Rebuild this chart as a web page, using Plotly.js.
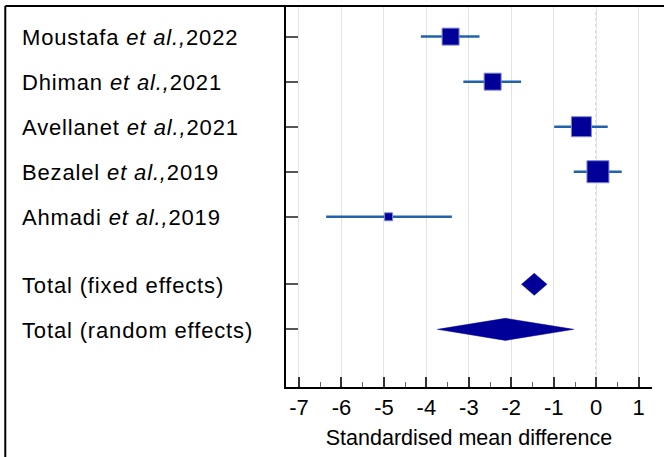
<!DOCTYPE html>
<html>
<head>
<meta charset="utf-8">
<script src="https://cdn.plot.ly/plotly-3.0.1.min.js"></script>
<style>html,body{margin:0;padding:0;background:#fff;}#chart{width:664px;height:457px;}
.annotation-text{letter-spacing:0.85px;}</style>
</head>
<body>
<div id="chart"></div>
<script>
// Studies (top to bottom)
var studyLabels = ["Moustafa <i>et al.,</i>2022", "Dhiman <i>et al.,</i>2021", "Avellanet <i>et al.,</i>2021", "Bezalel <i>et al.,</i>2019", "Ahmadi <i>et al.,</i>2019"];
var studyRows = [0, 1, 2, 3, 4];
var studySMD = [-3.43, -2.44, -0.35, 0.04, -4.89];
var studyLower = [-4.13, -3.13, -0.99, -0.53, -6.36];
var studyUpper = [-2.75, -1.77, 0.27, 0.60, -3.40];
var studyWeight = [17, 17, 20, 22, 8];   // marker size from weight

// Pooled estimates
var totalLabels = ["Total (fixed effects)", "Total (random effects)"];
var totalRows = [5.5, 6.5];
var totalSMD = [-1.46, -2.14];
var totalLower = [-1.76, -3.74];
var totalUpper = [-1.16, -0.53];

// X axis ticks
var xTickVals = [-7, -6, -5, -4, -3, -2, -1, 0, 1];
var xTickText = ["-7", "-6", "-5", "-4", "-3", "-2", "-1", "0", "1"];

var navy = "#000099";
var ciColor = "#2162aa";
var traces = [];
traces.push({
  type: "scatter", mode: "markers",
  x: studySMD, y: studyRows,
  marker: {symbol: "square", size: studyWeight, color: navy, opacity: 1, line: {color: "#7f86d6", width: 1}},
  error_x: {
    type: "data", symmetric: false,
    array: studySMD.map(function(v, i){ return studyUpper[i] - v; }),
    arrayminus: studySMD.map(function(v, i){ return v - studyLower[i]; }),
    color: ciColor, thickness: 2.5, width: 0
  },
  hoverinfo: "x", showlegend: false
});
var halfH = 0.245;
totalSMD.forEach(function(c, i){
  var r = totalRows[i];
  traces.push({
    type: "scatter", mode: "lines",
    x: [totalLower[i], c, totalUpper[i], c, totalLower[i]],
    y: [r, r - halfH, r, r + halfH, r],
    fill: "toself", fillcolor: navy,
    line: {color: navy, width: 0.5},
    hoverinfo: "skip", showlegend: false
  });
});
var annotations = [];
var allLabels = studyLabels.concat(totalLabels);
var allRows = studyRows.concat(totalRows);
allLabels.forEach(function(t, i){
  annotations.push({
    text: t, x: -0.727, xref: "paper", y: allRows[i], yref: "y", yshift: -1,
    xanchor: "left", yanchor: "middle", showarrow: false,
    font: {family: "Liberation Sans, Arial, sans-serif", size: 22, color: "#000"}
  });
});
var layout = {
  width: 664, height: 457,
  margin: {l: 286, r: 12, t: 6, b: 70, pad: 0},
  paper_bgcolor: "#fff", plot_bgcolor: "#fff",
  font: {family: "Liberation Sans, Arial, sans-serif", size: 21, color: "#000"},
  xaxis: {
    range: [-7.306, 1.313],
    tickvals: xTickVals, ticktext: xTickText,
    showgrid: true, gridcolor: "#e3e3e3", gridwidth: 1,
    zeroline: false,
    showline: true, linecolor: "#000", linewidth: 2,
    ticks: "inside", ticklen: 10, tickwidth: 2, tickcolor: "#333",
    minor: {dtick: 0.5, tick0: 0, ticks: "inside", ticklen: 5, tickwidth: 1, tickcolor: "#666", showgrid: false},
    tickfont: {size: 22},
    title: {text: "Standardised mean difference", font: {size: 21.5}, standoff: 11}
  },
  yaxis: {
    range: [7.78, -0.68],
    tickvals: allRows, showticklabels: false,
    showgrid: false, zeroline: false,
    showline: true, linecolor: "#000", linewidth: 2,
    ticks: "inside", ticklen: 12, tickwidth: 2, tickcolor: "#555"
  },
  shapes: [
    {type: "line", xref: "x", yref: "paper", x0: 0, x1: 0, y0: 0, y1: 0.985,
     line: {color: "#8fb0d8", width: 1.2, dash: "dot"}, layer: "below"},
    {type: "line", xref: "paper", yref: "paper", x0: -0.767, x1: 1.05, y0: 1, y1: 1,
     line: {color: "#000", width: 2}},
    {type: "line", xref: "paper", yref: "paper", x0: -0.767, x1: -0.767, y0: 1, y1: -0.2,
     line: {color: "#000", width: 2}}
  ],
  annotations: annotations
};
Plotly.newPlot("chart", traces, layout, {displayModeBar: false, staticPlot: true});
</script>
</body>
</html>
